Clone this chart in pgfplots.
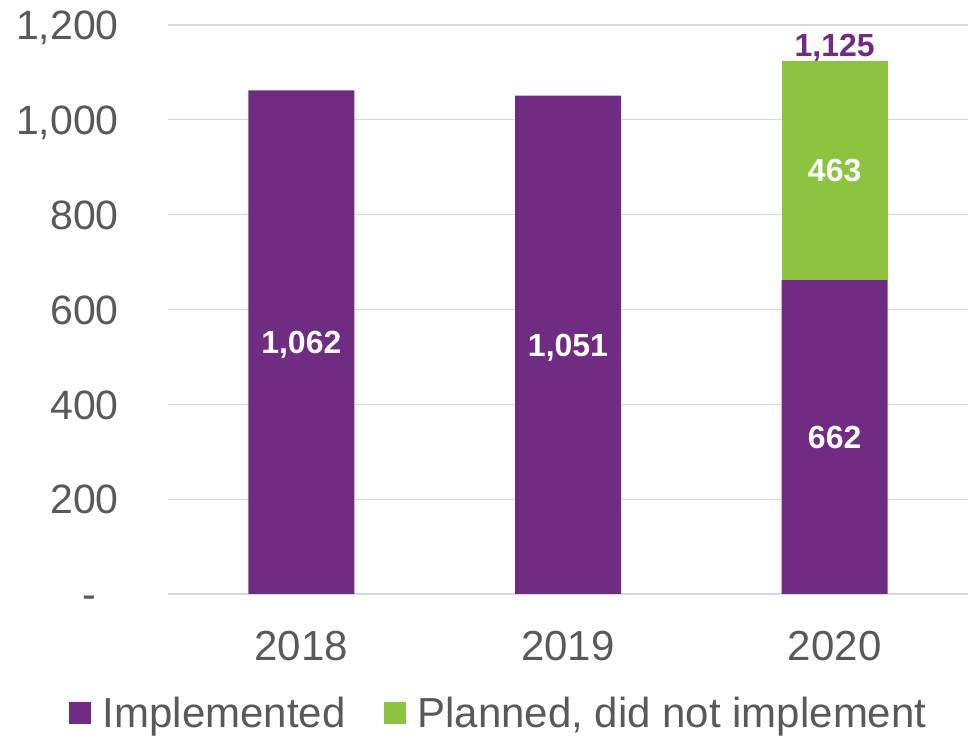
\documentclass[border=0pt]{standalone}
\usepackage{pgfplots}
\usepackage{pgfplotstable}
\pgfplotsset{compat=1.18}
\usepackage{fontspec}
\setmainfont{Liberation Sans}

\definecolor{impl}{HTML}{702B83}
\definecolor{plan}{HTML}{8DC43F}
\definecolor{txt}{HTML}{595959}
\definecolor{gridc}{HTML}{D9D9D9}

% year index, implemented, planned but not implemented
\pgfplotstableread{
year impl plan
0 1062 0
1 1051 0
2 662 463
}\rates

\pgfplotsset{
  frame/.style={
    at={(168bp,145bp)}, anchor=south west,
    scale only axis, width=800bp, height=569bp,
    xmin=-0.5, xmax=2.5, ymin=0, ymax=1200,
    /pgf/number format/1000 sep={,},
    /pgf/number format/assume math mode=true},
  midlabel/.style={
    point meta=rawy,
    nodes near coords={\pgfmathfloatifflags{\pgfplotspointmeta}{0}{}{\pgfmathprintnumber{\pgfplotspointmeta}}},
    every node near coord/.style={anchor=center, inner sep=0pt,
      text height=23bp, text depth=0pt, text=white,
      font=\fontsize{32bp}{32bp}\selectfont\bfseries}},
}

\begin{document}
\begin{tikzpicture}
\useasboundingbox (0,0) rectangle (968bp,739bp);
\begin{axis}[
  frame,
  ybar stacked, bar width=106bp,
  xtick={0,1,2}, xticklabels={2018,2019,2020},
  ytick={0,200,...,1200},
  yticklabels={-\hphantom{0},200,400,600,800,{1,000},{1,200}},
  ymajorgrids, grid style={gridc, line width=1.3bp},
  axis line style={draw=none},
  major tick length=0pt,
  tick label style={text=txt},
  yticklabel style={font=\fontsize{41bp}{41bp}\selectfont, anchor=east,
    inner sep=0pt, xshift=-49bp, text height=29.4bp, text depth=0pt},
  xticklabel style={font=\fontsize{42bp}{42bp}\selectfont, anchor=north,
    inner sep=0pt, yshift=-36bp, text height=30bp, text depth=0pt},
  legend columns=2,
  legend style={at={(0.412,-0.2091)}, anchor=center, draw=none, fill=none,
    inner sep=0pt, outer sep=0pt,
    font=\fontsize{42bp}{42bp}\selectfont, text=txt,
    nodes={inner sep=0pt, text height=30bp, text depth=0pt},
    /tikz/every odd column/.append style={column sep=12bp},
    /tikz/every even column/.append style={column sep=38bp}},
  legend image code/.code={\fill[#1,draw=none] (0bp,-11bp) rectangle (22bp,11bp);},
]
\addplot[fill=impl, draw=none, midlabel] table[x=year, y=impl] {\rates};
\addplot[fill=plan, draw=none, midlabel] table[x=year, y=plan] {\rates};
\legend{Implemented, {Planned, did not implement}}
\end{axis}
% total on top of the 2020 stack
\begin{axis}[frame, hide axis, clip=false]
\addplot[only marks, mark=none, point meta=y,
  nodes near coords={\pgfmathprintnumber{\pgfplotspointmeta}},
  every node near coord/.style={anchor=south, inner sep=0pt,
    text depth=0pt, yshift=4bp, text=impl,
    font=\fontsize{32bp}{32bp}\selectfont\bfseries}]
  coordinates {(2,1125)};
\end{axis}
\end{tikzpicture}
\end{document}
